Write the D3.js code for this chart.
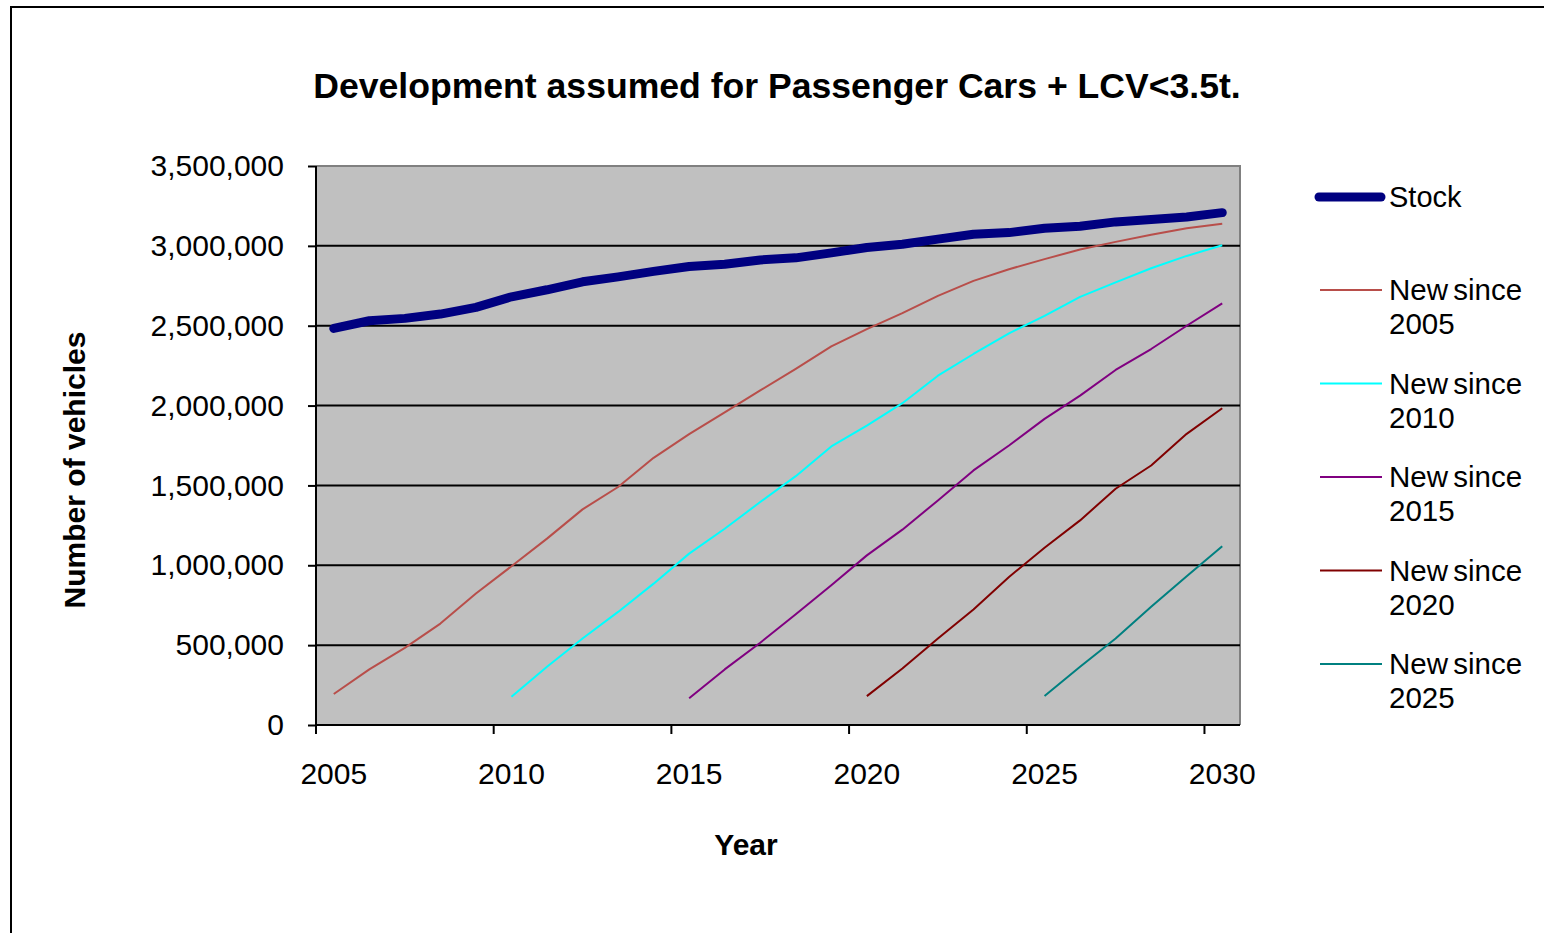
<!DOCTYPE html>
<html>
<head>
<meta charset="utf-8">
<script src="https://cdn.jsdelivr.net/npm/d3@7"></script>
<style>
  html, body { margin: 0; padding: 0; background: #fff; }
  svg { display: block; }
  text { font-family: Arial, "Liberation Sans", sans-serif; fill: #000; }
</style>
</head>
<body>
<svg id="chart" width="1544" height="933"></svg>
<script>
// ---- data ----
const years = d3.range(2005, 2031);
const stock = [2483000, 2531000, 2546000, 2573000, 2615000, 2681000, 2725000, 2775000, 2806000, 2840000,
               2871000, 2885000, 2912000, 2925000, 2956000, 2990000, 3010000, 3042000, 3073000, 3083000,
               3110000, 3123000, 3150000, 3165000, 3181000, 3208000];
const new2005 = [194000, 348000, 483000, 635000, 823000, 994000, 1167000, 1350000, 1490000, 1673000,
                 1821000, 1958000, 2095000, 2230000, 2371000, 2479000, 2579000, 2687000, 2781000, 2854000,
                 2917000, 2977000, 3025000, 3069000, 3110000, 3139000];
const new2010 = [177000, 365000, 542000, 708000, 885000, 1073000, 1229000, 1396000, 1558000, 1744000,
                 1875000, 2015000, 2187000, 2323000, 2452000, 2562000, 2681000, 2771000, 2860000, 2937000, 3004000];
const new2015 = [167000, 348000, 515000, 694000, 875000, 1062000, 1223000, 1406000, 1594000, 1750000,
                 1917000, 2062000, 2223000, 2354000, 2500000, 2640000];
const new2020 = [181000, 354000, 542000, 723000, 927000, 1110000, 1281000, 1479000, 1625000, 1823000, 1983000];
const new2025 = [181000, 365000, 542000, 740000, 931000, 1119000];
const yTicks = [0, 500000, 1000000, 1500000, 2000000, 2500000, 3000000, 3500000];
const xLabelYears = [2005, 2010, 2015, 2020, 2025, 2030];

const seriesList = [
  { name: "Stock", start: 2005, values: stock, color: "#000080", width: 9 },
  { name: "New since 2005", start: 2005, values: new2005, color: "#b84e4a", width: 2 },
  { name: "New since 2010", start: 2010, values: new2010, color: "#00ffff", width: 2 },
  { name: "New since 2015", start: 2015, values: new2015, color: "#800080", width: 2 },
  { name: "New since 2020", start: 2020, values: new2020, color: "#800000", width: 2 },
  { name: "New since 2025", start: 2025, values: new2025, color: "#008080", width: 2 }
];

// ---- layout ----
const svg = d3.select("#chart");
const plot = { left: 316, right: 1240, top: 166, bottom: 725 };

// outer frame
svg.append("rect").attr("x", 11).attr("y", 7).attr("width", 1560).attr("height", 960)
  .attr("fill", "#fff").attr("stroke", "#000").attr("stroke-width", 2);

const x = d3.scaleBand().domain(years).range([plot.left, plot.right]).padding(0);
const y = d3.scaleLinear().domain([0, 3500000]).range([plot.bottom, plot.top]);
const bw = x.bandwidth();

// plot area
svg.append("rect").attr("x", plot.left).attr("y", plot.top)
  .attr("width", plot.right - plot.left).attr("height", plot.bottom - plot.top)
  .attr("fill", "#c0c0c0");
svg.append("path")
  .attr("d", `M${plot.left},${plot.top}H${plot.right}V${plot.bottom}`)
  .attr("fill", "none").attr("stroke", "#808080").attr("stroke-width", 2);

// gridlines
svg.append("g").selectAll("line").data(yTicks.filter(d => d > 0 && d < 3500000)).join("line")
  .attr("x1", plot.left).attr("x2", plot.right)
  .attr("y1", d => y(d)).attr("y2", d => y(d))
  .attr("stroke", "#000").attr("stroke-width", 2);

// y axis
const yAxis = svg.append("g").attr("transform", `translate(${plot.left},0)`)
  .call(d3.axisLeft(y).tickValues(yTicks).tickFormat(d3.format(",")).tickSize(8).tickPadding(24));
yAxis.select(".domain").attr("stroke", "#000").attr("stroke-width", 2)
  .attr("d", `M0,${plot.top}V${plot.bottom}`);
yAxis.selectAll(".tick line").attr("stroke", "#000").attr("stroke-width", 2);
yAxis.selectAll(".tick text").attr("font-size", 30).attr("font-family", "Arial, 'Liberation Sans', sans-serif").attr("fill", "#000");

// x axis
const xg = svg.append("g").attr("transform", `translate(0,${plot.bottom})`);
xg.append("line").attr("x1", plot.left).attr("x2", plot.right).attr("y1", 0).attr("y2", 0)
  .attr("stroke", "#000").attr("stroke-width", 2);
xg.selectAll("line.tk").data(xLabelYears).join("line").attr("class", "tk")
  .attr("x1", d => x(d)).attr("x2", d => x(d)).attr("y1", 0).attr("y2", 9)
  .attr("stroke", "#000").attr("stroke-width", 2);
xg.selectAll("text.lb").data(xLabelYears).join("text").attr("class", "lb")
  .attr("x", d => x(d) + bw / 2).attr("y", 59)
  .attr("text-anchor", "middle").attr("font-size", 30).text(d => d);

// series
const line = d3.line().x(d => x(d.year) + bw / 2).y(d => y(d.v));
const drawOrder = seriesList.slice(1).concat([seriesList[0]]);
drawOrder.forEach(s => {
  const pts = s.values.map((v, i) => ({ year: s.start + i, v }));
  svg.append("path").datum(pts).attr("d", line)
    .attr("fill", "none").attr("stroke", s.color).attr("stroke-width", s.width)
    .attr("stroke-linecap", s.width > 3 ? "round" : "butt").attr("stroke-linejoin", "round");
});

// title
svg.append("text").attr("x", 777).attr("y", 98).attr("text-anchor", "middle")
  .attr("font-size", 35.6).attr("font-weight", "bold")
  .text("Development assumed for Passenger Cars + LCV<3.5t.");

// axis titles
svg.append("text").attr("x", 746).attr("y", 855).attr("text-anchor", "middle")
  .attr("font-size", 30).attr("font-weight", "bold").text("Year");
svg.append("text").attr("transform", "translate(85,470) rotate(-90)").attr("text-anchor", "middle")
  .attr("font-size", 30).attr("font-weight", "bold").text("Number of vehicles");

// legend
const lg = svg.append("g");
seriesList.forEach((s, i) => {
  if (i === 0) {
    lg.append("line").attr("x1", 1319).attr("x2", 1381).attr("y1", 197).attr("y2", 197)
      .attr("stroke", s.color).attr("stroke-width", 9).attr("stroke-linecap", "round");
    lg.append("text").attr("x", 1389).attr("y", 207).attr("font-size", 29).text(s.name);
  } else {
    const cy = 290 + (i - 1) * 93.5;
    lg.append("line").attr("x1", 1320).attr("x2", 1382).attr("y1", cy).attr("y2", cy)
      .attr("stroke", s.color).attr("stroke-width", 2);
    const parts = s.name.split(" ");
    lg.append("text").attr("x", 1389).attr("y", cy + 10).attr("font-size", 29.5)
      .attr("word-spacing", -3).text(parts[0] + " " + parts[1]);
    lg.append("text").attr("x", 1389).attr("y", cy + 44).attr("font-size", 29.5).text(parts[2]);
  }
});
</script>
</body>
</html>
